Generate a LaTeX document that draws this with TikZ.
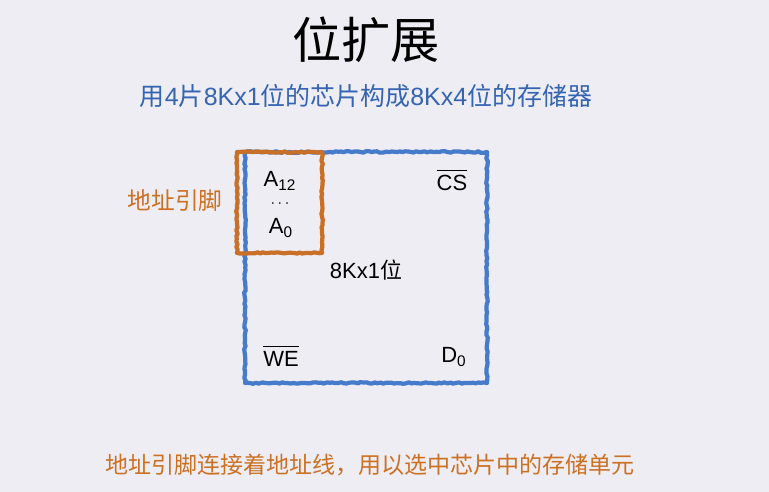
\documentclass[tikz,border=0pt]{standalone}
\usepackage{fontspec}
\setmainfont{Liberation Sans}
\newfontfamily\cjk{Noto Sans CJK SC}
\usetikzlibrary{decorations.pathmorphing}
\definecolor{bgcol}{RGB}{238,237,243}
\definecolor{chipblue}{RGB}{70,122,202}
\definecolor{pinorange}{RGB}{200,112,40}
\definecolor{subblue}{RGB}{52,100,178}
\definecolor{noteorange}{RGB}{204,112,34}
\newcommand{\barsig}[1]{$\overline{\vrule height 10.5pt width 0pt\hbox{#1}}$}

\begin{document}
\begin{tikzpicture}[
  crayon/.style={line width=2.4pt,line join=round,
    decorate,decoration={random steps,segment length=1.6pt,amplitude=0.45pt}},
  pin/.style={font=\fontsize{12.5}{15}\selectfont,inner sep=0.5pt},
  note/.style={font=\fontsize{13.5}{16}\selectfont\cjk,text=noteorange}]
  \useasboundingbox (0,0) rectangle (15.38,9.84);
  \fill[bgcol] (0,0) rectangle (15.38,9.84);
  % headings
  \node[font=\fontsize{28}{32}\selectfont\cjk] (title) at (7.32,9.04) {位扩展};
  \node[font=\fontsize{14.2}{17}\selectfont,text=subblue] (subtitle) at (7.32,7.92)
    {{\cjk 用}4{\cjk 片}8Kx1{\cjk 位的芯片构成}8Kx4{\cjk 位的存储器}};
  % chip and address pins
  \draw[crayon,chipblue] (4.9,2.18) rectangle (9.74,6.8);
  \draw[crayon,pinorange] (4.74,4.78) rectangle (6.44,6.8);
  \node[pin] (a12) at (5.6,6.22) {A\textsubscript{12}};
  \node[pin,font=\small] (dots) at (5.6,5.76) {$\cdots$};
  \node[pin] (a0) at (5.62,5.28) {A\textsubscript{0}};
  \node[pin] (cs) at (9.04,6.24) {\barsig{CS}};
  \node[pin] (size) at (7.32,4.44) {8Kx1{\cjk 位}};
  \node[pin] (we) at (5.62,2.72) {\barsig{WE}};
  \node[pin] (d0) at (9.08,2.7) {D\textsubscript{0}};
  % notes
  \node[note] (pinlabel) at (3.5,5.84) {地址引脚};
  \node[note,font=\fontsize{13.1}{16}\selectfont\cjk] (caption) at (7.4,0.54)
    {地址引脚连接着地址线，用以选中芯片中的存储单元};
\end{tikzpicture}
\end{document}
